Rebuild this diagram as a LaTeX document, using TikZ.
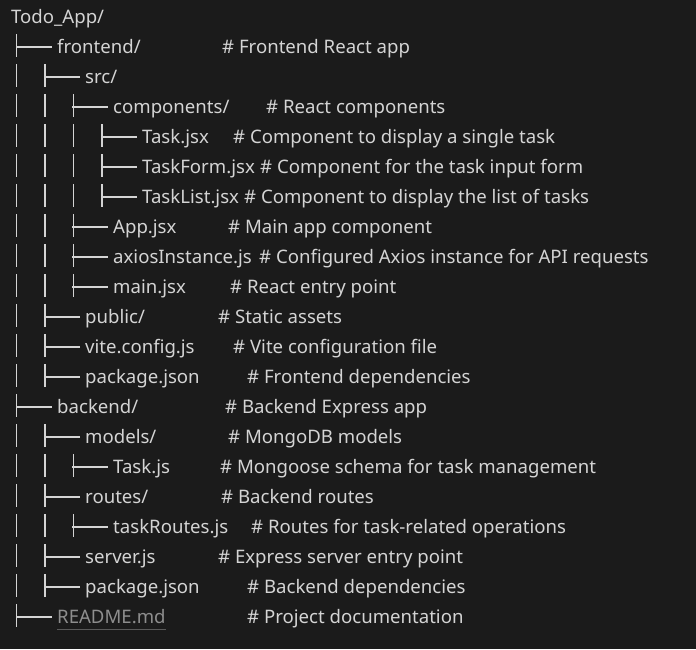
\documentclass[tikz,border=0pt]{standalone}
\usepackage{fontspec}
\setmainfont{Noto Sans}
\usetikzlibrary{positioning}
\definecolor{bg}{HTML}{1B1B1B}
\definecolor{txt}{HTML}{D4D4D4}
\definecolor{dim}{HTML}{8E8E8E}
\definecolor{dimline}{HTML}{5A5A5A}

\begin{document}
\begin{tikzpicture}[x=1pt,y=-1pt]
    \fontsize{18.6}{20}\selectfont
    \tikzstyle{file} = [anchor=west, inner sep=0pt, text height=12pt,
    text depth=0pt, text=txt]
    \tikzstyle{note} = [file]
    \tikzstyle{rail} = [draw=txt, line width=1.7pt]

    \fill[bg] (0,0) rectangle (696,649);
    \useasboundingbox (0,0) rectangle (696,649);

    \draw
    (11,17) node [file] (root) {Todo\_App/}
    (57,47) node [file] (frontend) {frontend/}
    (85,77) node [file] (src) {src/}
    (113,107) node [file] (components) {components/}
    (142,137) node [file] (taskjsx) {Task.jsx}
    (142,167) node [file] (taskform) {TaskForm.jsx}
    (142,197) node [file] (tasklist) {TaskList.jsx}
    (113,227) node [file] (appjsx) {App.jsx}
    (113,257) node [file] (axios) {axiosInstance.js}
    (113,287) node [file] (mainjsx) {main.jsx}
    (85,317) node [file] (public) {public/}
    (85,347) node [file] (vite) {vite.config.js}
    (85,377) node [file] (pkgfront) {package.json}
    (57,407) node [file] (backend) {backend/}
    (85,437) node [file] (models) {models/}
    (113,467) node [file] (taskjs) {Task.js}
    (85,497) node [file] (routes) {routes/}
    (113,527) node [file] (taskroutes) {taskRoutes.js}
    (85,557) node [file] (server) {server.js}
    (85,587) node [file] (pkgback) {package.json}
    (57,617) node [file, text=dim] (readme) {README.md}

    (222,47) node [note] (c-frontend) {\# Frontend React app}
    (266,107) node [note] (c-components) {\# React components}
    (233,137) node [note] (c-taskjsx) {\# Component to display a single task}
    (260,167) node [note] (c-taskform) {\# Component for the task input form}
    (244,197) node [note] (c-tasklist) {\# Component to display the list of tasks}
    (228,227) node [note] (c-appjsx) {\# Main app component}
    (259,257) node [note] (c-axios) {\# Configured Axios instance for API requests}
    (230,287) node [note] (c-mainjsx) {\# React entry point}
    (218,317) node [note] (c-public) {\# Static assets}
    (233,347) node [note] (c-vite) {\# Vite configuration file}
    (247,377) node [note] (c-pkgfront) {\# Frontend dependencies}
    (225,407) node [note] (c-backend) {\# Backend Express app}
    (228,437) node [note] (c-models) {\# MongoDB models}
    (220,467) node [note] (c-taskjs) {\# Mongoose schema for task management}
    (221,497) node [note] (c-routes) {\# Backend routes}
    (251,527) node [note] (c-taskroutes) {\# Routes for task-related operations}
    (218,557) node [note] (c-server) {\# Express server entry point}
    (247,587) node [note] (c-pkgback) {\# Backend dependencies}
    (247,617) node [note] (c-readme) {\# Project documentation}
;

    % rails, one piece per row and level
    \foreach \r/\l in {1/1,2/2,3/3,4/4,5/4,6/4,7/3,8/3,9/3,10/2,11/2,12/2,
      13/1,14/2,15/3,16/2,17/3,18/2,19/2,20/1}
      \foreach \k in {1,...,\l}
        \draw[rail] ({16.5+28.5*(\k-1)},{4+30*\r}) -- ++(0,23);

    % branches into the entries
    \foreach \n in {frontend,src,components,taskjsx,taskform,tasklist,appjsx,
      axios,mainjsx,public,vite,pkgfront,backend,models,taskjs,routes,
      taskroutes,server,pkgback,readme}
      \draw[rail, line width=1.3pt] ([xshift=-5pt]\n.west) -- ++(-36,0);

    \draw[dimline, line width=1pt] ([yshift=-6pt]readme.south west)
      -- ([yshift=-6pt]readme.south east);
  \end{tikzpicture}
\end{document}
